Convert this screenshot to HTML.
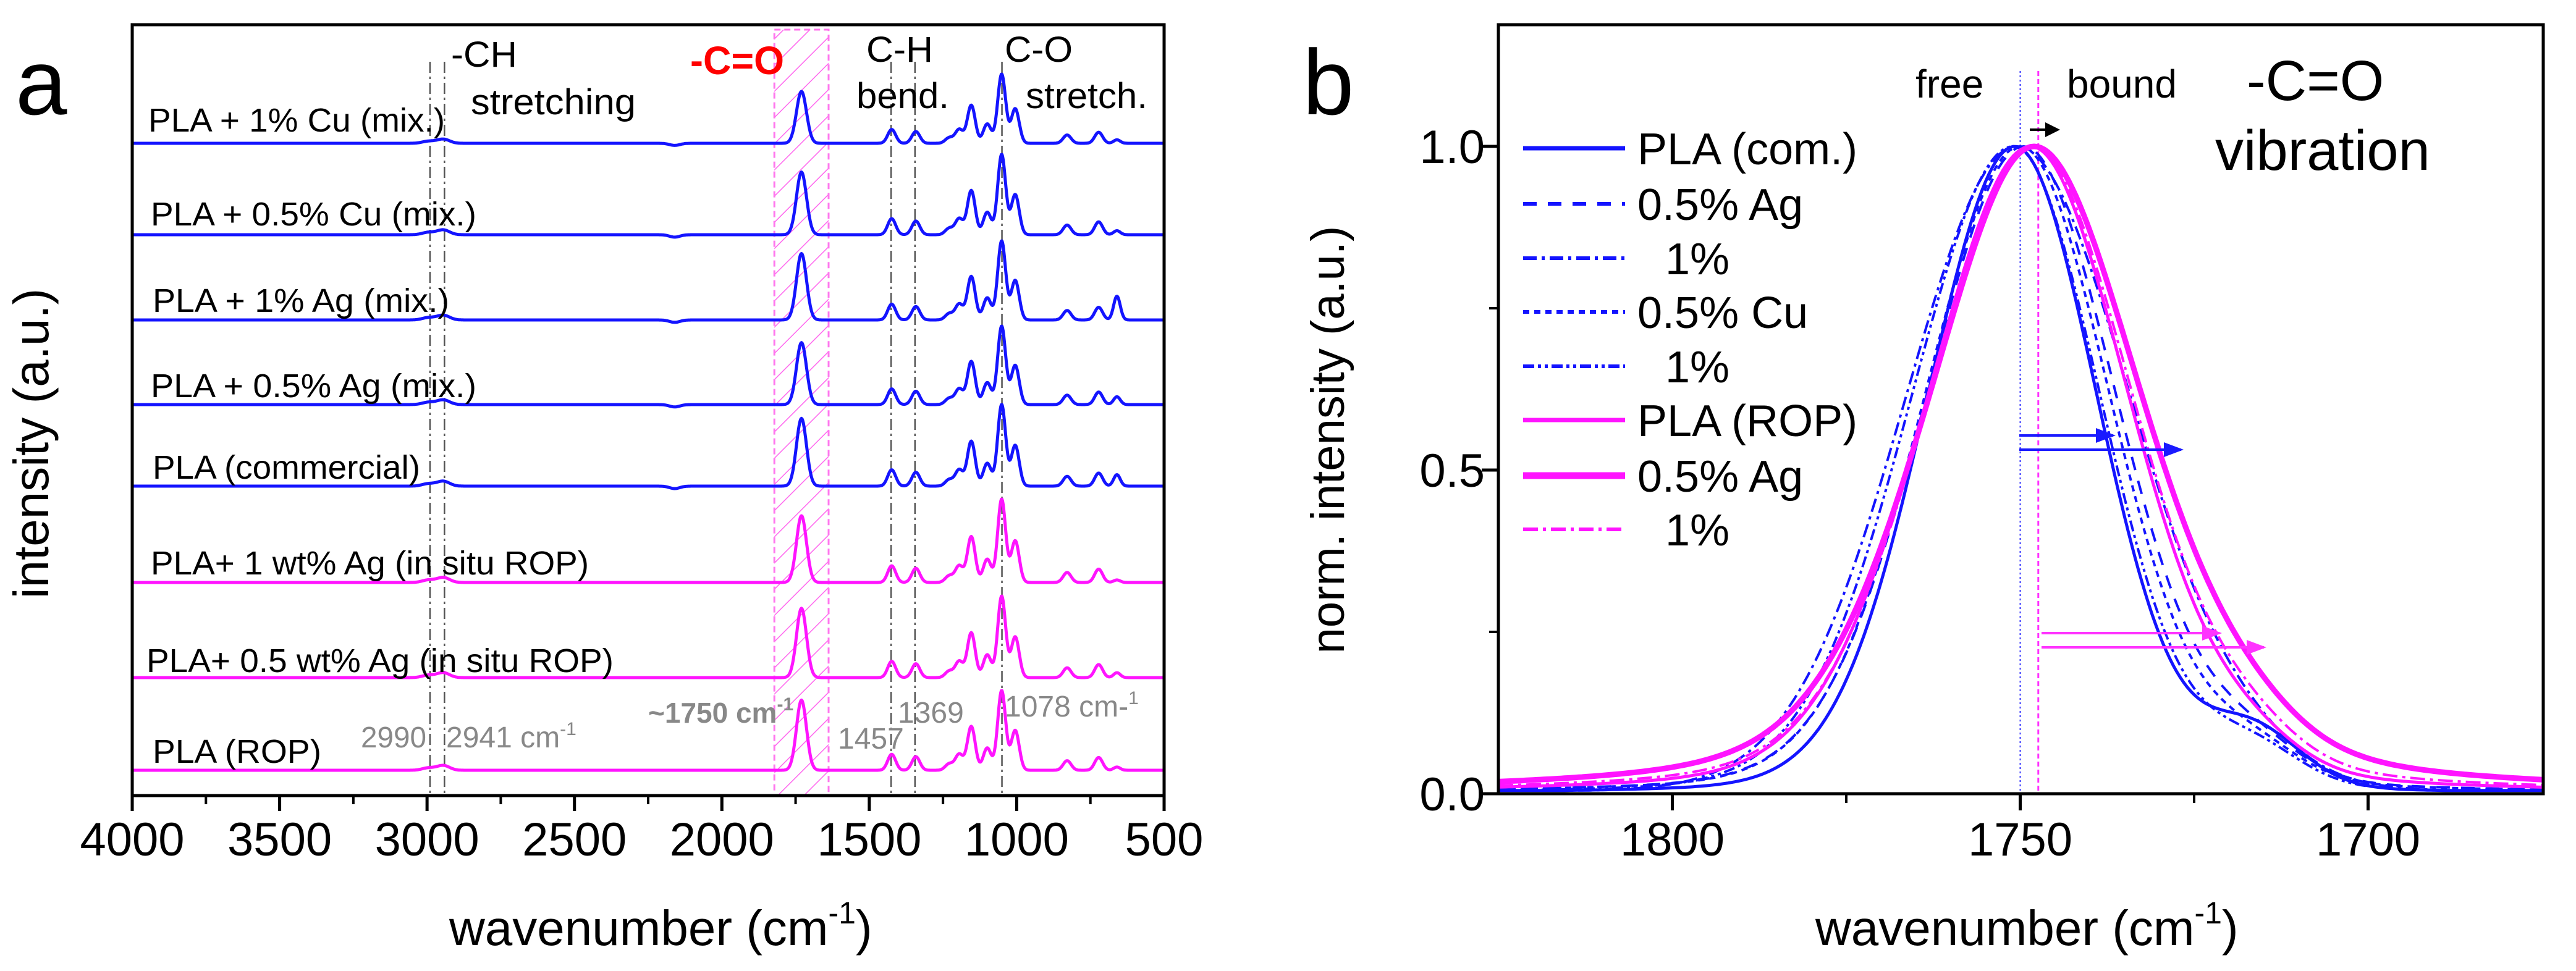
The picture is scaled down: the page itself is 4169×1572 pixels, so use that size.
<!DOCTYPE html>
<html><head><meta charset="utf-8"><style>
html,body{margin:0;padding:0;background:#fff;}
svg{display:block;font-family:"Liberation Sans",Arial,sans-serif;}
</style></head><body>
<svg id="fig" width="4169" height="1572" viewBox="0 0 4169 1572" xmlns="http://www.w3.org/2000/svg">
<defs>
<pattern id="hatch" patternUnits="userSpaceOnUse" width="30" height="30" patternTransform="rotate(45)">
<line x1="0" y1="0" x2="0" y2="30" stroke="#ff66ee" stroke-width="3"/>
</pattern>
<marker id="arrB" markerWidth="8" markerHeight="8" refX="7" refY="4" orient="auto" markerUnits="strokeWidth"><path d="M0,1 L8,4 L0,7 Z" fill="#1a1aff"/></marker>
<marker id="arrM" markerWidth="8" markerHeight="8" refX="7" refY="4" orient="auto" markerUnits="strokeWidth"><path d="M0,1 L8,4 L0,7 Z" fill="#ff33ff"/></marker>
<marker id="arrK" markerWidth="6" markerHeight="6" refX="5" refY="3" orient="auto" markerUnits="strokeWidth"><path d="M0,0 L6,3 L0,6 Z" fill="#000"/></marker>
</defs>
<g id="panelA"></g>
<g id="panelB"></g>
</svg>
<script>
// ---------- Panel a data ----------
const aTicks = [4000,3500,3000,2500,2000,1500,1000,500];
const aMinor = [3750,3250,2750,2250,1750,1250,750];
const aSeriesNames = ["PLA + 1% Cu (mix.)","PLA + 0.5% Cu (mix.)","PLA + 1% Ag (mix.)","PLA + 0.5% Ag (mix.)","PLA (commercial)","PLA+ 1 wt% Ag (in situ ROP)","PLA+ 0.5 wt% Ag (in situ ROP)","PLA (ROP)"];
const aColors = ["#1414ff","#1414ff","#1414ff","#1414ff","#1414ff","#ff14ff","#ff14ff","#ff14ff"];
const aOffsets = [10.56, 9.08, 7.70, 6.33, 5.01, 3.45, 1.91, 0.41]; // trace baseline offsets (a.u.)
const aMainPeak = [1.12, 1.30, 1.28, 1.27, 1.32, 1.35, 1.32, 1.29]; // C-O peak height (a.u.)
const aCOratio = [0.75, 0.78, 0.84, 0.79, 0.83, 0.80, 0.85, 0.88]; // C=O / C-O ratio
const a700ratio = [0.05, 0.05, 0.30, 0.10, 0.14, 0.03, 0.06, 0.04];
const aPeakPos = [2995, 2945, 1424, 1342, 1229, 1195, 1154, 1100, 1051, 1005, 829, 722];
const aPeakRel = [0.03, 0.06, 0.20, 0.17, 0.08, 0.20, 0.55, 0.28, 1.00, 0.50, 0.12, 0.16];
const aCarbonylPos = 1730;
const a700Pos = 660;
const aMarkLines = [2990, 2941, 1426, 1345, 1050];
const aBand = [1822, 1638];

// ---------- Panel b data ----------
const bXTicks = [1800,1750,1700];
const bXMinor = [1775,1725];
const bYTicks = [0.0,0.5,1.0];
const bYMinor = [0.25,0.75];
const bNames = ["PLA (com.)","0.5% Ag","  1%","0.5% Cu","  1%","PLA (ROP)","0.5% Ag","  1%"];
const bColors = ["#1414ff","#1414ff","#1414ff","#1414ff","#1414ff","#ff14ff","#ff14ff","#ff14ff"];
const bDash = ["","22,18","22,8,5,8","10,8","18,6,5,6,5,6","","","24,8,5,8"];
const bWidth = [5,4,4,4,4,5,9,4];
const bCenter = [1750.8, 1749.5, 1750.5, 1750.0, 1751.0, 1748.5, 1748.0, 1748.3];
const bHwLeft = [15.0, 16.8, 19.0, 16.5, 17.5, 17.8, 18.3, 17.8];
const bHwRight = [14.2, 16.0, 19.5, 15.5, 15.0, 17.0, 18.8, 17.5];
const bEta = [0.10, 0.15, 0.05, 0.15, 0.10, 0.20, 0.35, 0.25];
const bShoulder = [0.09, 0.05, 0.02, 0.05, 0.06, 0.03, 0.02, 0.03];

const NS="http://www.w3.org/2000/svg";
function el(tag, attrs, parent, text){
  const e=document.createElementNS(NS,tag);
  for(const k in attrs) e.setAttribute(k,attrs[k]);
  if(text!==undefined) e.textContent=text;
  parent.appendChild(e); return e;
}
const A=document.getElementById('panelA');
const B=document.getElementById('panelB');

// ===== Panel a axes =====
const aL=214,aR=1884,aT=40,aB=1288;
function xa(w){return aL+(4000-w)*(aR-aL)/3500;}
function ya(v){return aB - v*100;}

let band=el('rect',{x:xa(aBand[0]),y:aT+8,width:xa(aBand[1])-xa(aBand[0]),height:aB-aT-8,fill:'url(#hatch)',stroke:'#ff77ee','stroke-width':3,'stroke-dasharray':'10,6'},A);


aMarkLines.forEach((w,i)=>{
  const l=el('line',{x1:xa(w),x2:xa(w),y1:aT+60,y2:aB,stroke:'#555','stroke-width':2.5,'stroke-dasharray':'18,6,4,6'},A);
  
  
});
function spec(w,i){
  let v=0;
  for(let k=0;k<aPeakPos.length;k++){const s=(k<2?30:19); v+=aPeakRel[k]*Math.exp(-Math.pow((w-aPeakPos[k])/s,2));}
  v+=aCOratio[i]*Math.exp(-Math.pow((w-aCarbonylPos)/24,2));
  v+=a700ratio[i]*Math.exp(-Math.pow((w-a700Pos)/16,2));
  if(i<5) v-=0.03*Math.exp(-Math.pow((w-2160)/25,2));
  return v;
}
aSeriesNames.forEach((nm,i)=>{
  let d='';
  for(let w=4000;w>=500;w-=2){
    const yy=ya(aOffsets[i] + spec(w,i)*aMainPeak[i]);
    d+=(w===4000?'M':'L')+xa(w).toFixed(1)+','+yy.toFixed(1);
  }
  const p=el('path',{d:d,fill:'none',stroke:aColors[i],'stroke-width':5,'stroke-linejoin':'round'},A);
  
  
});
let fa=el('rect',{x:aL,y:aT,width:aR-aL,height:aB-aT,fill:'none',stroke:'#000','stroke-width':5},A);


aTicks.forEach(t=>{
  el('line',{x1:xa(t),x2:xa(t),y1:aB,y2:aB+25,stroke:'#000','stroke-width':5},A);
  const tx=el('text',{x:xa(t),y:1385,'font-size':76,'text-anchor':'middle'},A,String(t));
  
  
});
aMinor.forEach(t=>{el('line',{x1:xa(t),x2:xa(t),y1:aB,y2:aB+14,stroke:'#000','stroke-width':4},A);});
const aLabelY=[213,365,505,643,775,930,1088,1235];
const aLabelX=[240,244,247,244,247,244,237,247];
const aLabelW=[480,527,480,527,433,709,756,273];
aSeriesNames.forEach((nm,i)=>{
  const t=el('text',{x:aLabelX[i],y:aLabelY[i],'font-size':54,textLength:aLabelW[i],lengthAdjust:'spacingAndGlyphs'},A,nm);
  
  
});
function txt(parent,x,y,s,size,name,extra){
  const a={x:x,y:y,'font-size':size}; if(extra) Object.assign(a,extra);
  const t=el('text',a,parent,s);
  
  
  return t;
}
txt(A,25,185,'a',150,'panel-letter-a');
txt(A,730,108,'-CH',58,'ch-annotation',{textLength:107,lengthAdjust:'spacingAndGlyphs'});
txt(A,762,185,'stretching',58,'stretching-annotation',{textLength:267,lengthAdjust:'spacingAndGlyphs'});
txt(A,1117,120,'-C=O',64,'carbonyl-annotation',{fill:'#ff0000','font-weight':'bold',textLength:152,lengthAdjust:'spacingAndGlyphs'});
txt(A,1402,100,'C-H',58,'ch-bend-annotation',{textLength:108,lengthAdjust:'spacingAndGlyphs'});
txt(A,1386,175,'bend.',58,'bend-annotation',{textLength:150,lengthAdjust:'spacingAndGlyphs'});
txt(A,1626,100,'C-O',58,'co-annotation',{textLength:110,lengthAdjust:'spacingAndGlyphs'});
txt(A,1660,175,'stretch.',58,'stretch-annotation',{textLength:197,lengthAdjust:'spacingAndGlyphs'});
const g={fill:'#888'};
txt(A,584,1210,'2990',48,'label-2990',Object.assign({textLength:106,lengthAdjust:'spacingAndGlyphs'},g));
let t2=txt(A,722,1210,'2941 cm',48,'label-2941',g); el('tspan',{dy:-20,'font-size':30},t2,'-1');
let t3=txt(A,1049,1170,'~1750 cm',46,'label-1750',{fill:'#888','font-weight':'bold'}); el('tspan',{dy:-20,'font-size':30},t3,'-1');
txt(A,1356,1212,'1457',48,'label-1457',g);
txt(A,1453,1170,'1369',48,'label-1369',g);
let t4=txt(A,1626,1160,'1078 cm-',48,'label-1078',g); el('tspan',{dy:-20,'font-size':30},t4,'1');
let xl=txt(A,727,1530,'wavenumber (cm',80,'x-axis-title-a'); el('tspan',{dy:-35,'font-size':50},xl,'-1'); el('tspan',{dy:35},xl,')');
txt(A,0,0,'intensity (a.u.)',80,'y-axis-title-a',{transform:'translate(78,718) rotate(-90)','text-anchor':'middle'});

// ===== Panel b =====
const bL=2425,bR=4116,bT=40,bBt=1285;
function xb(w){return bL+(1825-w)*11.26;}
function yb(v){return bBt - v*1048;}
function prof(w,i){
  const c=bCenter[i]; const hw = w>c?bHwLeft[i]:bHwRight[i];
  const x=(w-c)/hw;
  const G=Math.exp(-Math.LN2*x*x), L=1/(1+x*x);
  let v=(1-bEta[i])*G+bEta[i]*L;
  v+=bShoulder[i]*Math.exp(-Math.pow((w-1717)/10,2))*(1-Math.exp(-Math.pow((w-c)/20,2)));
  return Math.max(v,0.005);
}
let fl=el('line',{x1:xb(1750),x2:xb(1750),y1:115,y2:bBt,stroke:'#3333ff','stroke-width':2,'stroke-dasharray':'3,4'},B);
 
let bl=el('line',{x1:xb(1747.4),x2:xb(1747.4),y1:115,y2:bBt,stroke:'#ff33ff','stroke-width':3,'stroke-dasharray':'8,5'},B);
 
bNames.forEach((nm,i)=>{
  let d='';
  for(let w=1825;w>=1675;w-=0.5){
    d+=(w===1825?'M':'L')+xb(w).toFixed(1)+','+yb(prof(w,i)).toFixed(1);
  }
  const a={d:d,fill:'none',stroke:bColors[i],'stroke-width':bWidth[i]};
  if(bDash[i]) a['stroke-dasharray']=bDash[i];
  const p=el('path',a,B);
  
  
});
[[3268,3420,705,'arrB','#1a1aff'],[3268,3530,728,'arrB','#1a1aff'],[3304,3592,1025,'arrM','#ff33ff'],[3304,3664,1048,'arrM','#ff33ff']].forEach((a,k)=>{
  const l=el('line',{x1:a[0],x2:a[1],y1:a[2],y2:a[2],stroke:a[4],'stroke-width':4,'marker-end':'url(#'+a[3]+')'},B);
   
});
let ka=el('line',{x1:3285,x2:3330,y1:210,y2:210,stroke:'#000','stroke-width':4,'marker-end':'url(#arrK)'},B);
 
let fb=el('rect',{x:bL,y:bT,width:bR-bL,height:bBt-bT,fill:'none',stroke:'#000','stroke-width':5},B);
 
bXTicks.forEach(t=>{
  el('line',{x1:xb(t),x2:xb(t),y1:bBt,y2:bBt+27,stroke:'#000','stroke-width':5},B);
  const tx=el('text',{x:xb(t),y:1385,'font-size':76,'text-anchor':'middle'},B,String(t));
   
});
bXMinor.forEach(t=>{el('line',{x1:xb(t),x2:xb(t),y1:bBt,y2:bBt+15,stroke:'#000','stroke-width':4},B);});
bYTicks.forEach(t=>{
  el('line',{x1:bL-27,x2:bL,y1:yb(t),y2:yb(t),stroke:'#000','stroke-width':5},B);
  const tx=el('text',{x:2403,y:yb(t)+27,'font-size':76,'text-anchor':'end'},B,t.toFixed(1));
   
});
bYMinor.forEach(t=>{el('line',{x1:bL-15,x2:bL,y1:yb(t),y2:yb(t),stroke:'#000','stroke-width':4},B);});
const legY=[240,330,418,505,593,680,770,857];
bNames.forEach((nm,i)=>{
  const a={x1:2465,x2:2630,y1:legY[i],y2:legY[i],stroke:bColors[i],'stroke-width':bWidth[i]+2};
  if(bDash[i]) a['stroke-dasharray']=bDash[i];
  const l=el('line',a,B);
   
  const t=el('text',{x:nm.startsWith('  ')?2695:2650,y:legY[i]+26,'font-size':72},B,nm.trim());
   
});
txt(B,2108,185,'b',150,'panel-letter-b');
txt(B,3100,158,'free',64,'free-label');
txt(B,3345,158,'bound',64,'bound-label');
txt(B,3636,162,'-C=O',92,'carbonyl-title');
txt(B,3585,275,'vibration',92,'vibration-title');
let xlb=txt(B,2938,1530,'wavenumber (cm',80,'x-axis-title-b'); el('tspan',{dy:-35,'font-size':50},xlb,'-1'); el('tspan',{dy:35},xlb,')');
txt(B,0,0,'norm. intensity (a.u.)',76,'y-axis-title-b',{transform:'translate(2175,712) rotate(-90)','text-anchor':'middle'});
</script>
</body></html>
